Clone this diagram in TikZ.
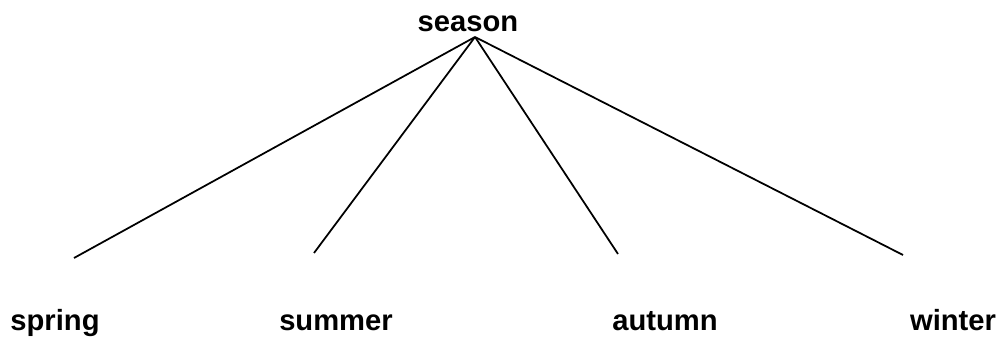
\documentclass[tikz,border=0pt]{standalone}
\usepackage{fontspec}
\setmainfont{Liberation Sans}
\tikzset{word/.style={anchor=base,inner sep=0pt,font=\fontsize{8.3}{10}\selectfont\bfseries}}
\begin{document}
\begin{tikzpicture}
        \useasboundingbox (0,0) rectangle (10.08,3.38);
        %% root
        \node[word] (season) at (4.68,3.06) {season};
        \coordinate (top) at (4.75,3.01);
        %% leaves
        \coordinate (e1) at (0.74,0.80);
        \coordinate (e2) at (3.14,0.85);
        \coordinate (e3) at (6.18,0.84);
        \coordinate (e4) at (9.03,0.83);
        \node[word] (spring) at (0.55,0.07) {spring};
        \node[word] (summer) at (3.36,0.07) {summer};
        \node[word] (autumn) at (6.65,0.07) {autumn};
        \node[word] (winter) at (9.53,0.07) {winter};
        %% branches
        \draw[line width=0.5pt] (top) -- (e1);
        \draw[line width=0.5pt] (top) -- (e2);
        \draw[line width=0.5pt] (top) -- (e3);
        \draw[line width=0.5pt] (top) -- (e4);
\end{tikzpicture}
\end{document}
